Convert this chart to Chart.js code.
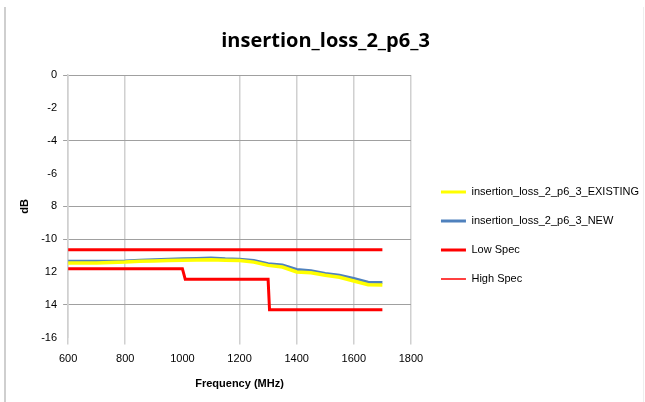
<!DOCTYPE html>
<html>
<head>
<meta charset="utf-8">
<script src="https://cdn.jsdelivr.net/npm/chart.js@4.4.1/dist/chart.umd.min.js"></script>
<style>
  html, body { margin: 0; padding: 0; background: #fff; }
  #wrap { position: relative; width: 645px; height: 402px; box-sizing: border-box; }
  #frameL { position: absolute; left: 4px; top: 7px; width: 2px; height: 395px; background: #cfcfcf; }
  #frameR { position: absolute; left: 643px; top: 7px; width: 1px; height: 395px; background: #eeeeee; }
  canvas { position: absolute; left: 0; top: 0; }
</style>
</head>
<body>
<div id="wrap">
  <div id="frameL"></div>
  <div id="frameR"></div>
  <canvas id="c" width="645" height="402"></canvas>
</div>
<script>
// ---- data ----
const chartTitle = 'insertion_loss_2_p6_3';
const seriesNames = ['insertion_loss_2_p6_3_EXISTING', 'insertion_loss_2_p6_3_NEW', 'Low Spec', 'High Spec'];
const frequency = [600, 650, 700, 750, 800, 850, 900, 950, 1000, 1050, 1100, 1150, 1200, 1250, 1300, 1350, 1400, 1450, 1500, 1550, 1600, 1650, 1700];
const existingLoss = [-11.45, -11.45, -11.45, -11.43, -11.40, -11.35, -11.33, -11.30, -11.28, -11.27, -11.25, -11.28, -11.30, -11.40, -11.60, -11.70, -12.00, -12.05, -12.20, -12.32, -12.55, -12.78, -12.80];
const newLoss      = [-11.35, -11.35, -11.35, -11.35, -11.33, -11.28, -11.25, -11.22, -11.20, -11.18, -11.15, -11.20, -11.22, -11.30, -11.50, -11.58, -11.85, -11.92, -12.10, -12.20, -12.40, -12.62, -12.65];
const lowSpecFreq  = [600, 1000, 1010, 1300, 1305, 1700];
const lowSpecVal   = [-11.8, -11.8, -12.45, -12.45, -14.3, -14.3];
const highSpecFreq = [600, 1700];
const highSpecVal  = [-10.65, -10.65];
const yTickLabels  = ['0', '-2', '-4', '-6', '8', '-10', '12', '14', '-16'];
const xTickLabels  = ['600', '800', '1000', '1200', '1400', '1600', '1800'];
const xTitle = 'Frequency (MHz)';
const yTitle = 'dB';

const pts = (xs, ys) => xs.map((x, i) => ({ x: x, y: ys[i] }));

const FONT = "'Liberation Sans', Arial, sans-serif";
const hiddenY = [-2, -6, -12, -16];
const hiddenX = [1000];

const legendShift = {
  id: 'legendShift',
  afterLayout(chart) {
    chart.legend.top += 34;
    chart.legend.bottom += 34;
    chart.legend.left += 12;
    chart.legend.right += 12;
  }
};

new Chart(document.getElementById('c'), {
  type: 'line',
  data: {
    datasets: [
      { label: seriesNames[0], data: pts(frequency, existingLoss), borderColor: '#ffff00', borderWidth: 3.5, pointRadius: 0, tension: 0 },
      { label: seriesNames[1], data: pts(frequency, newLoss), borderColor: '#4f81bd', borderWidth: 3, pointRadius: 0, tension: 0 },
      { label: seriesNames[2], data: pts(lowSpecFreq, lowSpecVal), borderColor: '#ff0000', borderWidth: 3, pointRadius: 0, tension: 0 },
      { label: seriesNames[3], data: pts(highSpecFreq, highSpecVal), borderColor: '#ff0000', borderWidth: 3, pointRadius: 0, tension: 0 }
    ]
  },
  options: {
    responsive: false,
    animation: false,
    layout: { padding: { left: 14, right: 8, top: 8, bottom: 7 } },
    plugins: {
      title: {
        display: true, text: chartTitle, color: '#000',
        font: { family: "'Open Sans', 'Liberation Sans', sans-serif", size: 20, weight: 'bold' },
        padding: { top: 21, bottom: 22 }
      },
      legend: {
        position: 'right',
        align: 'center',
        maxWidth: 227,
        labels: {
          color: '#000',
          font: { family: FONT, size: 11 },
          usePointStyle: true,
          pointStyle: 'line',
          pointStyleWidth: 25,
          padding: 18,
          generateLabels(chart) {
            return chart.data.datasets.map((ds, i) => ({
              text: ds.label,
              strokeStyle: ds.borderColor,
              fillStyle: ds.borderColor,
              lineWidth: i === 3 ? 1.5 : 3,
              pointStyle: 'line',
              hidden: false,
              datasetIndex: i
            }));
          }
        }
      },
      tooltip: { enabled: false }
    },
    scales: {
      x: {
        type: 'linear', min: 600, max: 1800,
        ticks: {
          stepSize: 200, color: '#000', font: { family: FONT, size: 11 }, padding: 8,
          callback: (v) => xTickLabels[Math.round((v - 600) / 200)]
        },
        grid: {
          color: (ctx) => (ctx.tick && hiddenX.includes(ctx.tick.value)) ? 'rgba(0,0,0,0)' : '#d0d0d0',
          lineWidth: 1.5, tickLength: 7
        },
        border: { display: false },
        title: { display: true, text: xTitle, color: '#000', font: { family: FONT, size: 11, weight: 'bold' }, padding: { top: 4 } }
      },
      y: {
        type: 'linear', min: -16, max: 0,
        ticks: {
          stepSize: 2, color: '#000', font: { family: FONT, size: 11 }, padding: 6,
          callback: (v) => yTickLabels[Math.round(-v / 2)]
        },
        grid: {
          color: (ctx) => (ctx.tick && hiddenY.includes(ctx.tick.value)) ? 'rgba(0,0,0,0)' : '#a0a0a0',
          lineWidth: 1, tickLength: 5
        },
        border: { display: true, color: '#d0d0d0', width: 1.5 },
        title: { display: true, text: yTitle, color: '#000', font: { family: FONT, size: 11, weight: 'bold' }, padding: { bottom: 4 } }
      }
    }
  },
  plugins: [legendShift]
});
</script>
</body>
</html>
